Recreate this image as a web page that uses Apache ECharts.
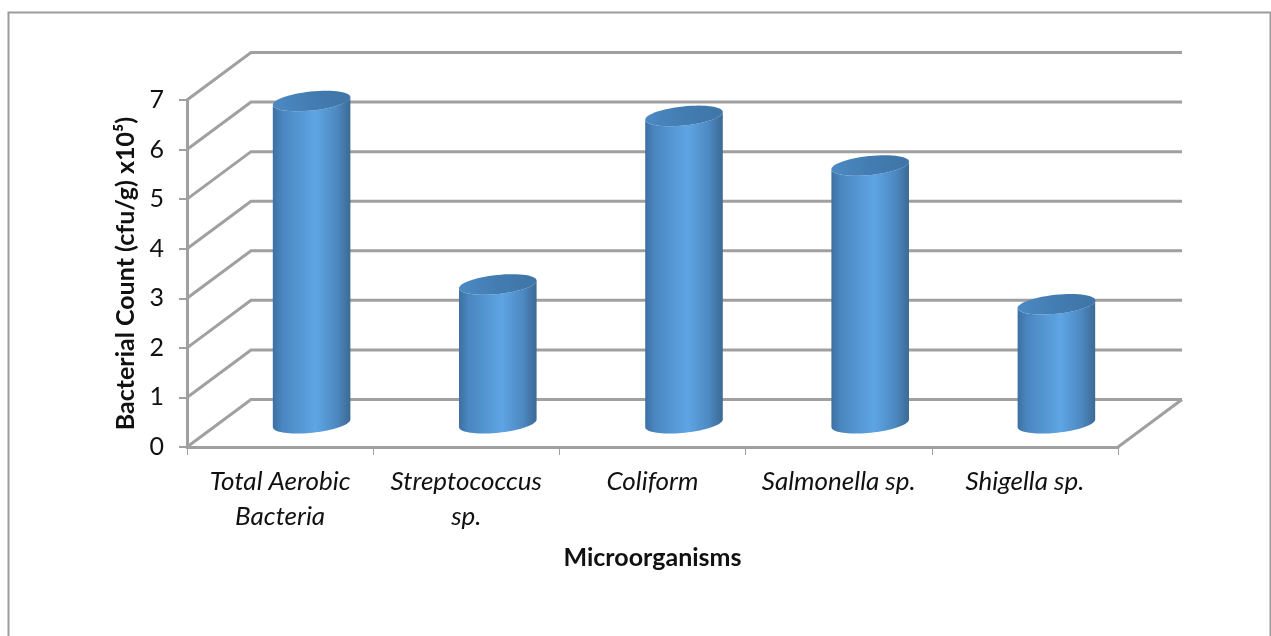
<!DOCTYPE html>
<html>
<head>
<meta charset="utf-8">
<style>html,body{margin:0;padding:0;background:#fff}#c{width:1271px;height:636px}</style>
<script src="https://cdn.jsdelivr.net/npm/echarts@6/dist/echarts.min.js"></script>
</head>
<body>
<div id="c"></div>
<script>
const categories = ['Total Aerobic\nBacteria', 'Streptococcus\nsp.', 'Coliform', 'Salmonella sp.', 'Shigella sp.'];
const counts = [6.5, 2.8, 6.2, 5.2, 2.4];
const yTicks = [0, 1, 2, 3, 4, 5, 6, 7];
const yTitle = 'Bacterial Count (cfu/g) x10⁵)';
const xTitle = 'Microorganisms';

// Pseudo-3D projection: how far the back wall sits from the front plane, in pixels.
const DEPTH_X = 64, DEPTH_Y = -47.5;
const CYL_RX = 39, CYL_RY = 9.5, CYL_TILT = -6 * Math.PI / 180;
const GRID_COLOR = '#a0a0a0';
const FONT = 'Lato, "Open Sans", sans-serif';

function ellipsePoint(cx, cy, t) {
  const ex = CYL_RX * Math.cos(t), ey = CYL_RY * Math.sin(t);
  return [cx + ex * Math.cos(CYL_TILT) - ey * Math.sin(CYL_TILT),
          cy + ex * Math.sin(CYL_TILT) + ey * Math.cos(CYL_TILT)];
}
function arc(cx, cy, from, to, n) {
  const pts = [];
  for (let i = 0; i <= n; i++) pts.push(ellipsePoint(cx, cy, from + (to - from) * i / n));
  return pts;
}

function renderWalls(params, api) {
  const rect = params.coordSys;
  const y = api.coord([0, api.value(0)])[1];
  const left = rect.x, right = rect.x + rect.width;
  const style = { stroke: GRID_COLOR, lineWidth: 3, fill: null };
  const children = [{
    type: 'polyline', silent: true,
    shape: { points: [[left, y], [left + DEPTH_X, y + DEPTH_Y], [right + DEPTH_X, y + DEPTH_Y]] },
    style
  }];
  if (api.value(0) === 0) {
    children.push({
      type: 'line', silent: true,
      shape: { x1: right, y1: y, x2: right + DEPTH_X, y2: y + DEPTH_Y },
      style
    });
  }
  return { type: 'group', children };
}

function renderCylinder(params, api) {
  const top = api.coord([api.value(0), api.value(1)]);
  const base = api.coord([api.value(0), 0]);
  const cx = top[0] + 31.5, cyTop = top[1] + DEPTH_Y / 2, cyBase = base[1] + DEPTH_Y / 2;
  // Body outline: the near half of the top rim and the near half of the base rim.
  const body = arc(cx, cyTop, Math.PI, 0, 30).concat(arc(cx, cyBase, 0, Math.PI, 40));
  const cap = arc(cx, cyTop, 0, 2 * Math.PI, 60);
  return {
    type: 'group',
    children: [
      {
        type: 'polygon', shape: { points: body },
        style: {
          fill: new echarts.graphic.LinearGradient(0, 0, 1, 0, [
            { offset: 0, color: '#3d70a2' },
            { offset: 0.12, color: '#4a86c0' },
            { offset: 0.55, color: '#5ea5e4' },
            { offset: 0.82, color: '#4d89c2' },
            { offset: 1, color: '#3c6a94' }
          ])
        }
      },
      {
        type: 'polygon', shape: { points: cap },
        style: {
          fill: new echarts.graphic.LinearGradient(0, 1, 1, 0, [
            { offset: 0, color: '#4d8ac4' },
            { offset: 0.5, color: '#427cb1' },
            { offset: 1, color: '#3f75a6' }
          ])
        }
      }
    ]
  };
}

const chart = echarts.init(document.getElementById('c'), null, { renderer: 'canvas' });
chart.setOption({
  animation: false,
  backgroundColor: '#ffffff',
  graphic: [{
    type: 'rect', z: -10, silent: true,
    shape: { x: 8.5, y: 12.5, width: 1262, height: 640 },
    style: { fill: '#ffffff', stroke: '#9c9c9c', lineWidth: 2 }
  }],
  grid: { left: 187, top: 100, width: 931, height: 347 },
  xAxis: {
    type: 'category',
    data: categories,
    axisLine: { lineStyle: { color: GRID_COLOR, width: 3 } },
    axisTick: { show: true, length: 8, alignWithLabel: false, lineStyle: { color: GRID_COLOR, width: 1 } },
    axisLabel: { fontFamily: FONT, fontStyle: 'italic', fontSize: 26, color: '#111', margin: 17, lineHeight: 35, interval: 0 },
    name: xTitle,
    nameLocation: 'middle',
    nameGap: 98,
    nameTextStyle: { fontFamily: FONT, fontWeight: 'bold', fontSize: 25, color: '#111' }
  },
  yAxis: {
    type: 'value', min: 0, max: 7, interval: 1,
    splitLine: { show: false },
    axisLine: { show: true, lineStyle: { color: GRID_COLOR, width: 3 } },
    axisTick: { show: true, length: 8, lineStyle: { color: GRID_COLOR, width: 2 } },
    axisLabel: { fontFamily: FONT, fontSize: 25, color: '#111', margin: 23, formatter: v => String(v) },
    name: yTitle,
    nameLocation: 'middle',
    nameGap: 49,
    nameTextStyle: { fontFamily: FONT, fontWeight: 'bold', fontSize: 25, color: '#111' }
  },
  series: [
    {
      type: 'custom', coordinateSystem: 'cartesian2d', z: 1, silent: true,
      encode: { y: 0 }, clip: false,
      data: yTicks.map(v => [v]),
      renderItem: renderWalls
    },
    {
      type: 'custom', coordinateSystem: 'cartesian2d', z: 2,
      encode: { x: 0, y: 1 }, clip: false,
      data: counts.map((v, i) => [i, v]),
      renderItem: renderCylinder
    }
  ]
});
</script>
</body>
</html>
